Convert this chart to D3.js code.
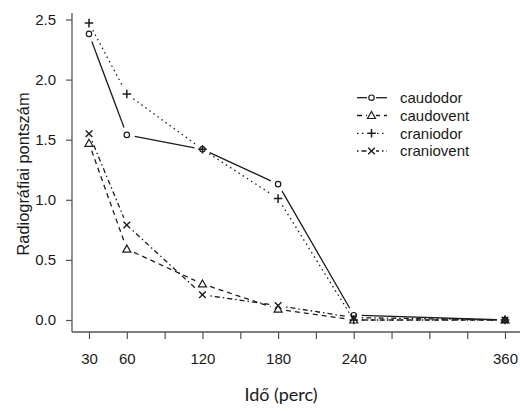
<!DOCTYPE html>
<html><head><meta charset="utf-8">
<script src="https://cdn.jsdelivr.net/npm/d3@7"></script>
<style>body{margin:0;background:#fff}svg{display:block}text{font-family:"Liberation Sans",Arial,sans-serif;fill:#1a1a1a}</style>
</head><body><svg id="c" width="520" height="411"></svg>
<script>
const times = [30, 60, 120, 180, 240, 360];
const xTicks = [30, 60, 90, 120, 150, 180, 210, 240, 270, 300, 330, 360];
const xTickLabels = [30, 60, 120, 180, 240, 360];
const yTicks = [0, 0.5, 1, 1.5, 2, 2.5];
const seriesNames = ["caudodor", "caudovent", "craniodor", "craniovent"];
const caudodor = [2.38, 1.54, 1.42, 1.13, 0.04, 0.0];
const caudovent = [1.47, 0.59, 0.30, 0.09, 0.0, 0.0];
const craniodor = [2.47, 1.88, 1.42, 1.01, 0.0, 0.0];
const craniovent = [1.55, 0.79, 0.21, 0.12, 0.02, 0.0];
const xLabel = "Idő (perc)";
const yLabel = "Radiográfiai pontszám";

const values = [caudodor, caudovent, craniodor, craniovent];
const dashes = [null, "5,4", "1.5,3.5", "1.5,3,5,3"];
const shapes = ["circle", "triangle", "plus", "cross"];

const svg = d3.select("#c");
const x = d3.scaleLinear().domain([30, 360]).range([89, 505]);
const y = d3.scaleLinear().domain([0, 2.5]).range([320, 19.5]);
const axisColor = "#555";
const ink = "#1c1c1c";

// axes (L-shaped box)
const xAxis = d3.axisBottom(x).tickValues(xTicks).tickSize(7).tickPadding(14)
  .tickFormat(d => xTickLabels.includes(d) ? d : "");
const gx = svg.append("g").attr("transform", "translate(0,332)").call(xAxis);
gx.select(".domain").remove();
gx.append("line").attr("x1", 72).attr("x2", 520).attr("stroke", axisColor).attr("stroke-width", 1.3);
gx.selectAll(".tick line").attr("stroke", axisColor).attr("stroke-width", 1.2);
gx.selectAll(".tick text").attr("font-size", 15).style("fill", "#1a1a1a");

const yAxis = d3.axisLeft(y).tickValues(yTicks).tickSize(6).tickPadding(10).tickFormat(d3.format(".1f"));
const gy = svg.append("g").attr("transform", "translate(72,0)").call(yAxis);
gy.select(".domain").remove();
gy.append("line").attr("y1", 13).attr("y2", 332).attr("stroke", axisColor).attr("stroke-width", 1.3);
gy.selectAll(".tick line").attr("stroke", axisColor).attr("stroke-width", 1.2);
gy.selectAll(".tick text").attr("font-size", 15).style("fill", "#1a1a1a");

svg.append("text").attr("x", 281).attr("y", 401).attr("text-anchor", "middle")
  .attr("font-size", 18).style("font-family", "Lato, 'Open Sans', sans-serif").text(xLabel);
svg.append("text").attr("transform", "translate(29,174) rotate(-90)").attr("text-anchor", "middle")
  .attr("font-size", 16.4).text(yLabel);

function drawShape(g, shape, cx, cy) {
  const s = g.append("g").attr("transform", `translate(${cx},${cy})`).attr("fill", "none").attr("stroke", ink).attr("stroke-width", 1.2);
  if (shape === "circle") s.append("circle").attr("r", 2.7);
  else if (shape === "triangle") s.append("path").attr("d", "M0,-4L4,3L-4,3Z");
  else if (shape === "plus") s.append("path").attr("d", "M-4.3,0H4.3M0,-4.3V4.3").attr("stroke-width", 1.5);
  else s.append("path").attr("d", "M-3.3,-3.3L3.3,3.3M-3.3,3.3L3.3,-3.3").attr("stroke-width", 1.4);
}

const gap = 8;
values.forEach((vals, si) => {
  const g = svg.append("g");
  const pts = times.map((t, i) => [x(t), y(vals[i])]);
  for (let i = 0; i < pts.length - 1; i++) {
    const [x1, y1] = pts[i], [x2, y2] = pts[i + 1];
    const dx = x2 - x1, dy = y2 - y1, L = Math.hypot(dx, dy);
    if (L <= 2 * gap) continue;
    const ux = dx / L, uy = dy / L;
    g.append("line")
      .attr("x1", x1 + ux * gap).attr("y1", y1 + uy * gap)
      .attr("x2", x2 - ux * gap).attr("y2", y2 - uy * gap)
      .attr("stroke", ink).attr("stroke-width", 1.3)
      .attr("stroke-dasharray", dashes[si]);
  }
  pts.forEach(p => drawShape(g, shapes[si], p[0], p[1]));
});

// legend
const lg = svg.append("g");
const rowY = [97.7, 115.5, 133.3, 151];
seriesNames.forEach((name, i) => {
  lg.append("line").attr("x1", 357).attr("x2", 387).attr("y1", rowY[i]).attr("y2", rowY[i])
    .attr("stroke", ink).attr("stroke-width", 1.3).attr("stroke-dasharray", dashes[i]);
  lg.append("rect").attr("x", 367).attr("y", rowY[i] - 5).attr("width", 9).attr("height", 10).attr("fill", "#fff");
  drawShape(lg, shapes[i], 371.5, rowY[i]);
  lg.append("text").attr("x", 400).attr("y", rowY[i]).attr("dy", "0.35em").attr("font-size", 15).text(name);
});
</script></body></html>
